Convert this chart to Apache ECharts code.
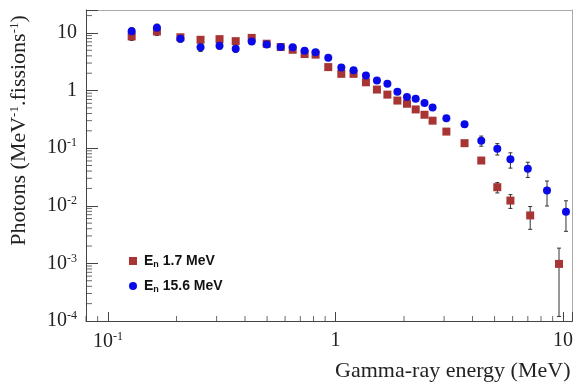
<!DOCTYPE html>
<html>
<head>
  <meta charset="utf-8">
  <title>Photons</title>
  <script src="https://cdn.jsdelivr.net/npm/echarts@6/dist/echarts.min.js"></script>
  <style>
    html, body { margin: 0; padding: 0; background: #fff; }
    #main { width: 576px; height: 387px; }
  </style>
</head>
<body>
  <div id="main"></div>
  <script type="text/javascript">
    // En = 1.7 MeV
    var energyA = [0.127, 0.164, 0.208, 0.255, 0.309, 0.364, 0.428, 0.498, 0.574, 0.648, 0.731, 0.817, 0.929, 1.06,
      1.20, 1.36, 1.52, 1.69, 1.87, 2.06, 2.25, 2.46, 2.67, 3.07, 3.69, 4.37, 5.14, 5.87, 7.17, 9.6];
    var photonsA = [8.7, 10.6, 8.4, 7.6, 7.8, 7.2, 8.2, 6.5, 5.7, 5.1, 4.3, 4.2, 2.55, 1.95,
      1.95, 1.39, 1.04, 0.85, 0.67, 0.59, 0.47, 0.38, 0.30, 0.194, 0.122, 0.061, 0.021, 0.0123, 0.0068, 0.00098];
    var errorA = [1.3, 1.6, 0.9, 0.8, 0.6, 0.6, 0.6, 0.4, 0.35, 0.3, 0.25, 0.25, 0.15, 0.12,
      0.12, 0.08, 0.06, 0.05, 0.04, 0.035, 0.03, 0.025, 0.02, 0.014, 0.01, 0.006, 0.0043, 0.0033, 0.0029, 0.00086];

    // En = 15.6 MeV
    var energyB = [0.127, 0.164, 0.208, 0.255, 0.309, 0.364, 0.428, 0.498, 0.574, 0.648, 0.731, 0.817, 0.929, 1.06,
      1.20, 1.36, 1.52, 1.69, 1.87, 2.06, 2.25, 2.46, 2.67, 3.07, 3.69, 4.37, 5.14, 5.87, 7.0, 8.5, 10.3];
    var photonsB = [10.7, 12.3, 7.9, 5.65, 6.0, 5.3, 7.1, 6.3, 5.7, 5.65, 4.9, 4.6, 3.7, 2.5,
      2.25, 1.82, 1.49, 1.31, 0.95, 0.77, 0.72, 0.61, 0.51, 0.33, 0.26, 0.135, 0.098, 0.064, 0.044, 0.0184, 0.0079];
    var errorB = [1.6, 1.9, 1.0, 0.9, 0.8, 0.7, 0.6, 0.5, 0.4, 0.35, 0.3, 0.3, 0.2, 0.15,
      0.12, 0.1, 0.08, 0.07, 0.06, 0.05, 0.045, 0.04, 0.035, 0.03, 0.03, 0.027, 0.022, 0.019, 0.013, 0.0085, 0.0043];

    var xMin = 0.08, xMax = 11;
    var yMin = 1e-4, yMax = 25;

    // 2..9 minor ticks inside each decade, kept inside the axis range
    function minorTicks(fromExp, toExp, lo, hi) {
      var out = [];
      for (var e = fromExp; e <= toExp; e++) {
        for (var d = 2; d <= 9; d++) {
          var v = d * Math.pow(10, e);
          if (v >= lo && v <= hi) out.push(v);
        }
      }
      return out;
    }
    var xMinor = minorTicks(-2, 1, xMin, xMax);
    var yMinor = minorTicks(-4, 1, yMin, yMax);

    var serif = 'Liberation Serif';
    var sans = 'Liberation Sans';
    var supStyle = { fontFamily: serif, fontSize: 12, verticalAlign: 'top', lineHeight: 22, color: '#222' };

    function powLabel(v) {
      var e = Math.round(Math.log10(v));
      if (Math.abs(Math.log10(v) - e) > 0.01) return '';
      if (e === 0) return '1';
      if (e === 1) return '10';
      return '10{sup|' + e + '}';
    }

    function pairs(xs, ys, errs) {
      var out = [];
      for (var i = 0; i < xs.length; i++) out.push([xs[i], ys[i], ys[i] - errs[i], ys[i] + errs[i]]);
      return out;
    }

    function errorBar(params, api) {
      var x = api.value(0);
      var hi = api.coord([x, api.value(3)]);
      var lo = api.coord([x, api.value(2)]);
      var c = 2;
      var st = { stroke: '#333', lineWidth: 1 };
      return {
        type: 'group',
        children: [
          { type: 'line', shape: { x1: hi[0], y1: hi[1], x2: lo[0], y2: lo[1] }, style: st },
          { type: 'line', shape: { x1: hi[0] - c, y1: hi[1], x2: hi[0] + c, y2: hi[1] }, style: st },
          { type: 'line', shape: { x1: lo[0] - c, y1: lo[1], x2: lo[0] + c, y2: lo[1] }, style: st }
        ]
      };
    }

    var legendRich = {
      b: { fontFamily: sans, fontWeight: 'bold', fontSize: 14, color: '#111' },
      sub: { fontFamily: sans, fontWeight: 'bold', fontSize: 9, color: '#111', verticalAlign: 'bottom', lineHeight: 16 }
    };

    // top / right frame lines
    var frameX = { type: 'log', min: xMin, max: xMax, position: 'top', axisLine: { show: true, lineStyle: { color: '#aaa', width: 1 } },
      axisTick: { show: false }, axisLabel: { show: false }, splitLine: { show: false } };
    var frameY = { type: 'log', min: yMin, max: yMax, position: 'right', axisLine: { show: true, lineStyle: { color: '#aaa', width: 1 } },
      axisTick: { show: false }, axisLabel: { show: false }, splitLine: { show: false } };

    var chart = echarts.init(document.getElementById('main'));
    chart.setOption({
      animation: false,
      grid: { left: 83, right: 3, top: 10, bottom: 66 },
      legend: {
        left: 124, top: 249, orient: 'vertical', itemGap: 10, itemWidth: 8, itemHeight: 8,
        textStyle: { rich: legendRich, padding: [0, 0, 0, 2] },
        formatter: function (name) { return '{b|E}{sub|n}{b| ' + name.replace('En ', '') + '}'; },
        data: [{ name: 'En 1.7 MeV', icon: 'rect' }, { name: 'En 15.6 MeV', icon: 'circle' }]
      },
      xAxis: [{
        type: 'log', min: xMin, max: xMax, position: 'bottom',
        name: 'Gamma-ray energy (MeV)', nameLocation: 'end', nameGap: -2,
        nameTextStyle: { fontFamily: serif, fontSize: 22, color: '#222', align: 'right', verticalAlign: 'top', padding: [39, 0, 0, 0] },
        axisLine: { show: true, lineStyle: { color: '#444', width: 1 } },
        axisTick: { show: true, inside: true, length: 9, lineStyle: { color: '#444' } },
        axisLabel: { formatter: powLabel, margin: 10, fontFamily: serif, fontSize: 20, color: '#222', rich: { sup: supStyle } },
        splitLine: { show: false }
      }, frameX],
      yAxis: [{
        type: 'log', min: yMin, max: yMax, position: 'left',
        name: 'Photons (MeV{sup|-1}.fissions{sup|-1})', nameLocation: 'middle', nameGap: 55,
        nameTextStyle: { fontFamily: serif, fontSize: 22, color: '#222', padding: [0, 0, 0, 70], rich: { sup: { fontFamily: serif, fontSize: 13, verticalAlign: 'top', lineHeight: 23, color: '#222' } } },
        axisLine: { show: true, lineStyle: { color: '#444', width: 1 } },
        axisTick: { show: true, inside: true, length: 12, lineStyle: { color: '#444' } },
        axisLabel: { formatter: powLabel, margin: 9, fontFamily: serif, fontSize: 20, color: '#222', rich: { sup: supStyle } },
        splitLine: { show: false }
      }, frameY],
      series: [{
        // minor ticks on the x axis (short marks pointing up)
        type: 'scatter', name: 'xMinor', symbol: 'rect', symbolSize: [1, 5], symbolOffset: [0, -2.5],
        itemStyle: { color: '#444' }, clip: false, z: 10,
        data: xMinor.map(function (v) { return [v, yMin]; })
      }, {
        // minor ticks on the y axis (short marks pointing right)
        type: 'scatter', name: 'yMinor', symbol: 'rect', symbolSize: [6, 1], symbolOffset: [3, 0],
        itemStyle: { color: '#444' }, clip: false, z: 10,
        data: yMinor.map(function (v) { return [xMin, v]; })
      }, {
        type: 'custom', name: 'errA', renderItem: errorBar, clip: true, silent: true,
        encode: { x: 0, y: [1, 2, 3] }, data: pairs(energyA, photonsA, errorA), z: 1
      }, {
        type: 'custom', name: 'errB', renderItem: errorBar, clip: true, silent: true,
        encode: { x: 0, y: [1, 2, 3] }, data: pairs(energyB, photonsB, errorB), z: 1
      }, {
        type: 'scatter', name: 'En 1.7 MeV', symbol: 'rect', symbolSize: 8,
        itemStyle: { color: '#a83434', opacity: 1 },
        data: energyA.map(function (e, i) { return [e, photonsA[i]]; }), z: 2
      }, {
        type: 'scatter', name: 'En 15.6 MeV', symbol: 'circle', symbolSize: 8,
        itemStyle: { color: '#0a0ae8', opacity: 1 },
        data: energyB.map(function (e, i) { return [e, photonsB[i]]; }), z: 3
      }]
    });
  </script>
</body>
</html>
